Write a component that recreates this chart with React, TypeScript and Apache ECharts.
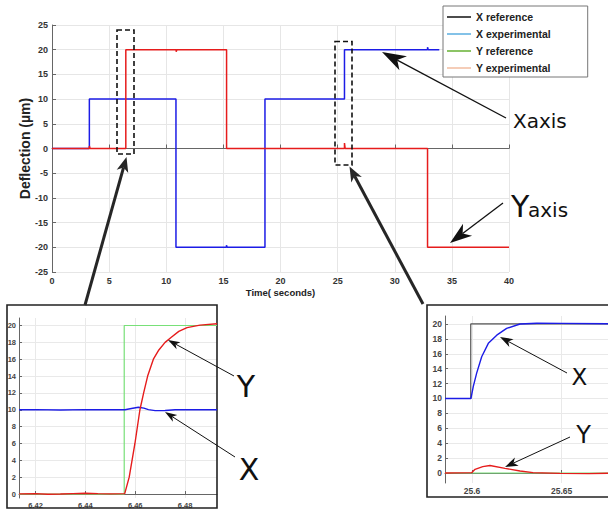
import React, { useEffect, useRef } from "react";
import * as echarts from "echarts";

// ---------- Main chart data: step change points [time (s), new level (µm)] ----------
const mainXExperimental: [number, number][] = [
  [0, 0], [3.27, 10], [10.85, -20], [15.27, -19.6], [15.33, -20], [18.64, 10],
  [25.6, 20], [32.87, 20.5], [32.93, 20], [33.9, 20],
];
const mainYExperimental: [number, number][] = [
  [0, 0], [3.27, 0.5], [3.33, 0], [6.46, 20], [10.87, 19.6], [10.93, 20], [15.28, 0],
  [25.6, 1.1], [25.66, 0], [32.87, -20], [40, -20],
];

const mainXTicks = [0, 40, 5];
const mainYTicks = [-25, 25, 5];

// ---------- Inset 1 (Y step near t = 6.46 s) ----------
const inset1XRange = [6.41338, 6.49283];
const inset1YRange = [-0.47, 20.89];
const inset1XTicks = [6.42, 6.44, 6.46, 6.48];
const inset1YTicks = [0, 2, 4, 6, 8, 10, 12, 14, 16, 18, 20];
const inset1YReference: [number, number][] = [
  [6.41338, 0], [6.4556, 0], [6.4556, 20], [6.49283, 20],
];
const inset1XExperimental: [number, number][] = [
  [6.41338, 10], [6.42, 10.02], [6.43, 9.98], [6.44, 10.02], [6.45, 10.0], [6.4559, 10.0],
  [6.4585, 10.15], [6.4613, 10.3], [6.4635, 10.2], [6.4653, 10.02], [6.468, 9.9],
  [6.472, 9.92], [6.476, 10.0], [6.485, 10.0], [6.49283, 10.0],
];
const inset1YExperimental: [number, number][] = [
  [6.41338, 0.02], [6.42, 0.05], [6.425, -0.02], [6.43, 0.0], [6.435, 0.05], [6.44, 0.1],
  [6.445, 0.05], [6.45, 0.02], [6.4558, 0.05], [6.4576, 2], [6.4599, 6], [6.4619, 10],
  [6.4634, 12], [6.465, 14], [6.4673, 16], [6.4695, 17.1], [6.472, 18], [6.4745, 18.6],
  [6.4775, 19.3], [6.4808, 19.75], [6.486, 20.05], [6.49283, 20.2],
];

// ---------- Inset 2 (X step near t = 25.6 s) ----------
const inset2XRange = [25.58495, 25.6825];
const inset2YRange = [-1.34, 21.07];
const inset2XTicks = [25.6, 25.65];
const inset2YTicks = [0, 2, 4, 6, 8, 10, 12, 14, 16, 18, 20];
const inset2XReference: [number, number][] = [
  [25.58495, 10], [25.5993, 10], [25.5993, 20], [25.6825, 20],
];
const inset2YReference: [number, number][] = [
  [25.58495, 0], [25.6825, 0],
];
const inset2XExperimental: [number, number][] = [
  [25.58495, 10], [25.59, 10.0], [25.5994, 10.0], [25.6007, 11.6], [25.6026, 13.4],
  [25.6054, 15.6], [25.6091, 17.4], [25.6138, 18.5], [25.6193, 19.4], [25.6268, 20.0],
  [25.6361, 20.1], [25.65, 20.08], [25.6825, 20.02],
];
const inset2YExperimental: [number, number][] = [
  [25.58495, 0.0], [25.59, 0.02], [25.5998, 0.05], [25.6017, 0.5], [25.606, 0.85],
  [25.61, 1.0], [25.6184, 0.63], [25.6268, 0.27], [25.634, 0.05], [25.649, -0.05],
  [25.665, -0.08], [25.6825, 0.0],
];

const legendNames = ["X reference", "X experimental", "Y reference", "Y experimental"];
const legendColors = ["#111111", "#5aaee0", "#66b032", "#f2bca0"];

const BLUE = "#1c1ce6";
const RED = "#e61c1c";
const AXIS_FONT = "Liberation Sans, Arial, sans-serif";
const ANN_FONT = "DejaVu Sans, sans-serif";

function arrow(
  x1: number, y1: number, x2: number, y2: number,
  width: number, head: number, headW: number, color: string
) {
  const dx = x2 - x1, dy = y2 - y1;
  const len = Math.hypot(dx, dy);
  const ux = dx / len, uy = dy / len;
  const px = -uy, py = ux;
  const bx = x2 - ux * head, by = y2 - uy * head;
  const nx = x2 - ux * head * 0.72, ny = y2 - uy * head * 0.72;
  return [
    { type: "line", z: 100, shape: { x1, y1, x2: nx, y2: ny }, style: { stroke: color, lineWidth: width } },
    {
      type: "polygon", z: 100,
      shape: { points: [[x2, y2], [bx + px * headW / 2, by + py * headW / 2], [nx, ny], [bx - px * headW / 2, by - py * headW / 2]] },
      style: { fill: color },
    },
  ];
}

function insetAxes(gridIndex: number, xr: number[], yr: number[], xt: number[], yt: number[], fs: number, xfmt: (v: number) => string) {
  const common = {
    gridIndex,
    type: "value" as const,
    axisLine: { show: true, lineStyle: { color: "#666", width: 1 } },
    axisTick: { show: true, inside: true, length: 3, lineStyle: { color: "#666" } },
    splitLine: { show: true, lineStyle: { color: "#e9e9e9", width: 1 } },
  };
  return {
    x: {
      ...common,
      min: xr[0], max: xr[1],
      axisTick: { ...common.axisTick, customValues: xt },
      axisLabel: { customValues: xt, formatter: xfmt, fontSize: fs, fontWeight: "bold", color: "#444", fontFamily: AXIS_FONT, margin: 3 },
    },
    y: {
      ...common,
      min: yr[0], max: yr[1],
      axisTick: { ...common.axisTick, customValues: yt },
      axisLabel: { customValues: yt, fontSize: fs, fontWeight: "bold", color: "#444", fontFamily: AXIS_FONT, margin: 3 },
    },
  };
}

export default function App() {
  const ref = useRef<HTMLDivElement>(null);

  useEffect(() => {
    if (!ref.current) return;
    const chart = echarts.init(ref.current, undefined, { renderer: "svg" });

    const a1 = insetAxes(1, inset1XRange, inset1YRange, inset1XTicks, inset1YTicks, 7.5, (v) => v.toFixed(2));
    const a2 = insetAxes(2, inset2XRange, inset2YRange, inset2XTicks, inset2YTicks, 8.5, (v) => String(v));

    const lineBase = { type: "line" as const, showSymbol: false, symbol: "none", silent: true, clip: true };

    const graphics: any[] = [
      // inset frames
      { type: "rect", z: 1, shape: { x: 7, y: 305, width: 210, height: 203 }, style: { fill: "none", stroke: "#222", lineWidth: 1.6 } },
      { type: "rect", z: 1, shape: { x: 427, y: 305, width: 200, height: 192 }, style: { fill: "none", stroke: "#222", lineWidth: 1.6 } },
      // dashed zoom boxes
      { type: "rect", z: 100, shape: { x: 117, y: 30, width: 17, height: 124 }, style: { fill: "none", stroke: "#111", lineWidth: 1.6, lineDash: [5, 3] } },
      { type: "rect", z: 100, shape: { x: 335, y: 41.5, width: 17, height: 123.5 }, style: { fill: "none", stroke: "#111", lineWidth: 1.6, lineDash: [5, 3] } },
      ...arrow(85, 305, 126.5, 157, 3, 15, 12, "#262626"),
      ...arrow(423, 304, 349.5, 166.5, 3, 15, 12, "#262626"),
      ...arrow(506, 118, 382, 52, 1.3, 24, 16, "#111"),
      ...arrow(503, 203, 450, 243, 1.3, 22, 15, "#111"),
      ...arrow(234, 376, 168, 340, 1, 12, 8, "#111"),
      ...arrow(235, 457, 165, 412, 1, 12, 8, "#111"),
      ...arrow(567, 373, 500, 337, 1, 13, 9, "#111"),
      ...arrow(570, 437, 505, 467, 1, 13, 9, "#111"),
      // annotation texts
      { type: "text", z: 100, style: { text: "Xaxis", x: 513, y: 121, font: `20px ${ANN_FONT}`, fill: "#111", textAlign: "left", textVerticalAlign: "middle" } },
      { type: "text", z: 100, style: { text: "Y", x: 511, y: 206.6, font: `30px ${ANN_FONT}`, fill: "#111", textAlign: "left", textVerticalAlign: "middle" } },
      { type: "text", z: 100, style: { text: "axis", x: 528, y: 210, font: `20px ${ANN_FONT}`, fill: "#111", textAlign: "left", textVerticalAlign: "middle" } },
      { type: "text", z: 100, style: { text: "Y", x: 246, y: 386.6, font: `30px ${ANN_FONT}`, fill: "#111", textAlign: "center", textVerticalAlign: "middle" } },
      { type: "text", z: 100, style: { text: "X", x: 249, y: 469.6, font: `30px ${ANN_FONT}`, fill: "#111", textAlign: "center", textVerticalAlign: "middle" } },
      { type: "text", z: 100, style: { text: "X", x: 579.5, y: 377, font: `23px ${ANN_FONT}`, fill: "#111", textAlign: "center", textVerticalAlign: "middle" } },
      { type: "text", z: 100, style: { text: "Y", x: 583.5, y: 434.7, font: `24px ${ANN_FONT}`, fill: "#111", textAlign: "center", textVerticalAlign: "middle" } },
    ];

    chart.setOption({
      animation: false,
      backgroundColor: "#ffffff",
      grid: [
        { left: 52, top: 25, width: 457, height: 247, containLabel: false, outerBoundsMode: "none" },
        { left: 19, top: 318, width: 198, height: 180, containLabel: false, outerBoundsMode: "none" },
        { left: 445, top: 316, width: 175, height: 167, containLabel: false, outerBoundsMode: "none" },
      ],
      legend: {
        orient: "vertical",
        left: 443,
        top: 6,
        itemWidth: 24,
        itemHeight: 1.5,
        itemGap: 5,
        padding: [5, 37, 3, 4],
        backgroundColor: "#ffffff",
        borderColor: "#777",
        borderWidth: 1,
        selectedMode: false,
        textStyle: { fontSize: 10.5, fontWeight: "bold", fontFamily: AXIS_FONT, color: "#222", lineHeight: 12 },
        data: legendNames.map((n, i) => ({ name: n, icon: "rect", itemStyle: { color: legendColors[i], borderWidth: 0 } })),
      },
      xAxis: [
        {
          gridIndex: 0, type: "value", min: mainXTicks[0], max: mainXTicks[1], interval: mainXTicks[2],
          axisLine: { show: true, lineStyle: { color: "#666" } },
          axisTick: { show: true, inside: true, length: 4, lineStyle: { color: "#666" } },
          axisLabel: { fontSize: 9, fontWeight: "bold", color: "#333", fontFamily: AXIS_FONT, margin: 4 },
          splitLine: { show: true, lineStyle: { color: "#e6e6e6" } },
          name: "Time( seconds)", nameLocation: "middle", nameGap: 15, nameMoveOverlap: false,
          nameTextStyle: { fontSize: 9.5, fontWeight: "bold", color: "#222", fontFamily: AXIS_FONT },
        },
        a1.x,
        a2.x,
      ],
      yAxis: [
        {
          gridIndex: 0, type: "value", min: mainYTicks[0], max: mainYTicks[1], interval: mainYTicks[2],
          axisLine: { show: true, lineStyle: { color: "#666" } },
          axisTick: { show: true, inside: true, length: 4, lineStyle: { color: "#666" } },
          axisLabel: { fontSize: 9, fontWeight: "bold", color: "#333", fontFamily: AXIS_FONT, margin: 4 },
          splitLine: { show: true, lineStyle: { color: "#e6e6e6" } },
          name: "Deflection (µm)", nameLocation: "middle", nameGap: 20, nameMoveOverlap: false,
          nameTextStyle: { fontSize: 14, fontWeight: "bold", color: "#222", fontFamily: AXIS_FONT },
        },
        a1.y,
        a2.y,
      ],
      series: [
        { ...lineBase, name: "X experimental", xAxisIndex: 0, yAxisIndex: 0, step: "end", data: mainXExperimental, lineStyle: { color: BLUE, width: 1.5 }, itemStyle: { color: BLUE } },
        { ...lineBase, name: "Y experimental", xAxisIndex: 0, yAxisIndex: 0, step: "end", data: mainYExperimental, lineStyle: { color: RED, width: 1.5 }, itemStyle: { color: RED } },

        { ...lineBase, name: "Y reference", xAxisIndex: 1, yAxisIndex: 1, data: inset1YReference, lineStyle: { color: "#78e078", width: 1.2 }, itemStyle: { color: "#78e078" } },
        { ...lineBase, name: "X experimental", xAxisIndex: 1, yAxisIndex: 1, data: inset1XExperimental, lineStyle: { color: BLUE, width: 1.4 }, itemStyle: { color: BLUE } },
        { ...lineBase, name: "Y experimental", xAxisIndex: 1, yAxisIndex: 1, data: inset1YExperimental, lineStyle: { color: RED, width: 1.4 }, itemStyle: { color: RED } },

        { ...lineBase, name: "Y reference", xAxisIndex: 2, yAxisIndex: 2, data: inset2YReference, lineStyle: { color: "#78e078", width: 1.2 }, itemStyle: { color: "#78e078" } },
        { ...lineBase, name: "X reference", xAxisIndex: 2, yAxisIndex: 2, data: inset2XReference, lineStyle: { color: "#555", width: 1.2 }, itemStyle: { color: "#555" } },
        { ...lineBase, name: "X experimental", xAxisIndex: 2, yAxisIndex: 2, data: inset2XExperimental, lineStyle: { color: BLUE, width: 1.4 }, itemStyle: { color: BLUE } },
        { ...lineBase, name: "Y experimental", xAxisIndex: 2, yAxisIndex: 2, data: inset2YExperimental, lineStyle: { color: RED, width: 1.4 }, itemStyle: { color: RED } },
      ],
      graphic: graphics,
    });

    return () => chart.dispose();
  }, []);

  return <div ref={ref} style={{ position: "fixed", left: 0, top: 0, width: 608, height: 510 }} />;
}
